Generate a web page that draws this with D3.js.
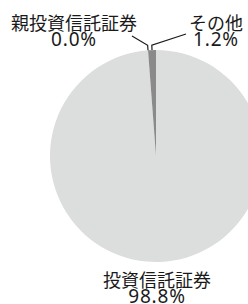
<!DOCTYPE html>
<html>
<head>
<meta charset="utf-8">
<script src="https://cdn.jsdelivr.net/npm/d3@7"></script>
<style>
  body { margin: 0; background: #fff; }
  text { font-family: "Noto Sans CJK JP", "Noto Sans", sans-serif; font-size: 18px; fill: #1a1a1a; }
  tspan.num { font-family: "Noto Sans", "Noto Sans CJK JP", sans-serif; font-size: 19px; letter-spacing: 0.8px; }
</style>
</head>
<body>
<div id="chart"></div>
<script>
var width = 248;
var height = 304;

var names = ["投資信託証券", "親投資信託証券", "その他"];
var values = [98.8, 0.0, 1.2];
var colors = ["#dcdddd", "#8a8a8a", "#8a8a8a"];

var cx = 156, cy = 156, radius = 106;

var svg = d3.select("#chart").append("svg")
    .attr("width", width)
    .attr("height", height);

var g = svg.append("g")
    .attr("transform", "translate(" + cx + "," + cy + ")");

var pie = d3.pie().sort(null).value(function(d) { return d; });
var arcs = pie(values);

var arc = d3.arc().innerRadius(0).outerRadius(radius);

g.selectAll("path")
    .data(arcs)
    .enter().append("path")
    .attr("d", arc)
    .attr("fill", function(d, i) { return colors[i]; });

// label spots (text centre x, first baseline), relative to the page
var labelPos = [
    {x: 157, y: 287, line: null},
    {x: 74, y: 30, line: [132, 36]},
    {x: 216, y: 30, line: [186, 34]}
];

function edgePoint(a, r) {
    return [Math.sin(a) * r, -Math.cos(a) * r];
}

arcs.forEach(function(d, i) {
    var p = labelPos[i];
    if (p.line) {
        var a = (i === 1) ? d.startAngle : (d.startAngle + d.endAngle) / 2;
        var p0 = edgePoint(a, radius);
        var p1 = edgePoint(a, radius + 5);
        g.append("polyline")
            .attr("points", [p0, p1, [p.line[0] - cx, p.line[1] - cy]].map(function(q) { return q.join(","); }).join(" "))
            .attr("fill", "none")
            .attr("stroke", "#1a1a1a")
            .attr("stroke-width", 1.2);
    }
    var t = svg.append("text")
        .attr("text-anchor", "middle")
        .attr("x", p.x)
        .attr("y", p.y);
    t.append("tspan").attr("x", p.x).text(names[i]);
    t.append("tspan").attr("class", "num").attr("x", p.x).attr("dy", 16).text(values[i].toFixed(1) + "%");
});
</script>
</body>
</html>
